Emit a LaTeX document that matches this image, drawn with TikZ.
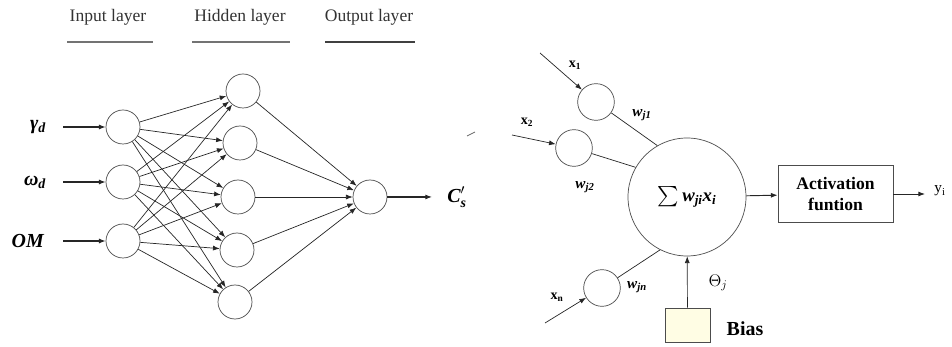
\documentclass[tikz,border=0pt]{standalone}
\usepackage{fontspec}
\setmainfont{Liberation Serif}
\usepackage{amsmath}
\usetikzlibrary{positioning, arrows.meta}
\definecolor{biasfill}{RGB}{255,253,228}
\newcommand{\bi}[1]{\textbf{\textit{#1}}}

\begin{document}
\begin{tikzpicture}
    [
        x=0.3mm, y=-0.3mm, >={Latex[length=2mm, width=1.5mm]},
        neuron_node/.style={circle, draw=black!70, line width=0.6pt, minimum size=10.2mm, inner sep=0pt},
        small_node/.style={circle, draw=black!70, line width=0.6pt, minimum size=11mm, inner sep=0pt},
        sum_node/.style={circle, draw=black!70, line width=0.6pt, minimum size=35.4mm, inner sep=0pt, font=\fontsize{16}{18}\selectfont},
        title_node/.style={font=\fontsize{15}{18}\selectfont, text=black!80},
        var_node/.style={font=\fontsize{17}{19}\selectfont, inner sep=0pt},
        wlabel_node/.style={font=\fontsize{13}{15}\selectfont, inner sep=0pt},
        box_node/.style={rectangle, draw=black!70, line width=0.7pt, fill=white, font=\fontsize{15}{18}\selectfont\bfseries, align=center, minimum width=34.5mm, minimum height=17.1mm},
        bias_node/.style={rectangle, draw=black!70, line width=0.7pt, fill=biasfill, minimum width=13.5mm, minimum height=10.2mm},
        underline/.style={line width=1.2pt, color=black!55},
        link/.style={line width=0.6pt, color=black!85},
    ]
        \useasboundingbox (0,0) rectangle (952,347);

        % layer titles
        \node[title_node] (in_title) at (108,17) {Input layer};
        \node[title_node] (hid_title) at (240,17) {Hidden layer};
        \node[title_node] (out_title) at (369,17) {Output layer};
        \draw[underline] (67,42) -- (153,42);
        \draw[underline] (192,42) -- (290,42);
        \draw[underline, color=black!75] (325,42) -- (415,42);

        % network
        \node[neuron_node] (in1) at (123,127) {};
        \node[neuron_node] (in2) at (123,182) {};
        \node[neuron_node] (in3) at (123,241) {};
        \node[neuron_node] (h1) at (243,91) {};
        \node[neuron_node] (h2) at (240,143) {};
        \node[neuron_node] (h3) at (238,197) {};
        \node[neuron_node] (h4) at (237,250) {};
        \node[neuron_node] (h5) at (235,302) {};
        \node[neuron_node] (out) at (370,197) {};

        \node[var_node] (gamma) at (38,127) {\bi{γ\textsubscript{d}}};
        \node[var_node] (omega) at (35,182) {\bi{ω\textsubscript{d}}};
        \node[var_node] (om) at (28,241) {\bi{OM}};
        \node[var_node] (cs) at (457,197) {$\bi{C}'_{\bi{s}}$};
        \coordinate (a1) at (63,127);
        \coordinate (a2) at (63,182);
        \coordinate (a3) at (63,241);
        \coordinate (a4) at (432,197);

        \draw[->, link, line width=0.9pt] (a1) -- (in1);
        \draw[->, link, line width=0.9pt] (a2) -- (in2);
        \draw[->, link, line width=0.9pt] (a3) -- (in3);
        \draw[->, link, line width=0.9pt] (out) -- (a4);

        \draw[->, link] (in1) -- (h1);
        \draw[->, link] (in1) -- (h2);
        \draw[->, link] (in1) -- (h3);
        \draw[->, link] (in1) -- (h4);
        \draw[->, link] (in1) -- (h5);
        \draw[->, link] (in2) -- (h1);
        \draw[->, link] (in2) -- (h2);
        \draw[->, link] (in2) -- (h3);
        \draw[->, link] (in2) -- (h4);
        \draw[->, link] (in2) -- (h5);
        \draw[->, link] (in3) -- (h1);
        \draw[->, link] (in3) -- (h2);
        \draw[->, link] (in3) -- (h3);
        \draw[->, link] (in3) -- (h4);
        \draw[->, link] (in3) -- (h5);
        \draw[->, link] (h1) -- (out);
        \draw[->, link] (h2) -- (out);
        \draw[->, link] (h3) -- (out);
        \draw[->, link] (h4) -- (out);
        \draw[->, link] (h5) -- (out);

        % stray mark
        \draw[line width=0.6pt, color=black!60] (467,136) -- (475,132);

        % single neuron
        \node[sum_node] (sum) at (687,197) {$\sum$\,\bi{w\textsubscript{ji}x\textsubscript{i}}};
        \node[small_node] (c1) at (596,102) {};
        \node[small_node] (c2) at (574,148) {};
        \node[small_node] (cn) at (602,288) {};
        \coordinate (x1_in) at (540,53);
        \coordinate (x2_in) at (512,135);
        \coordinate (xn_in) at (545,323);

        \node[wlabel_node, font=\fontsize{12}{14}\selectfont\bfseries] (x1) at (575,65) {x\textsubscript{1}};
        \node[wlabel_node, font=\fontsize{12}{14}\selectfont\bfseries] (x2) at (527,122) {x\textsubscript{2}};
        \node[wlabel_node, font=\fontsize{12}{14}\selectfont\bfseries] (xn) at (557,297) {x\textsubscript{n}};
        \node[wlabel_node] (wj1) at (642,115) {\bi{w\textsubscript{j1}}};
        \node[wlabel_node] (wj2) at (585,187) {\bi{w\textsubscript{j2}}};
        \node[wlabel_node] (wjn) at (637,287) {\bi{w\textsubscript{jn}}};

        \draw[->, link] (x1_in) -- (c1);
        \draw[->, link] (x2_in) -- (c2);
        \draw[->, link] (xn_in) -- (cn);
        \draw[link] (c1) -- (sum.120);
        \draw[link] (c2) -- (sum.150);
        \draw[link] (cn) -- (sum.243);

        \node[bias_node] (bias) at (687.5,325) {};
        \node[font=\fontsize{17}{19}\selectfont\bfseries, inner sep=0pt] (bias_label) at (745,329) {Bias};
        \node[font=\fontsize{14}{16}\selectfont, inner sep=0pt] (theta) at (718,283) {$\Theta_{j}$};
        \draw[->, link] (bias) -- (sum);

        \node[box_node] (act) at (835.5,194) {Activation\\funtion};
        \coordinate (y_out) at (925,194);
        \node[font=\fontsize{13}{15}\selectfont, inner sep=0pt] (yi) at (940,191) {y\textsubscript{i}};
        \draw[->, link, line width=0.8pt] (sum) -- (act);
        \draw[->, link, line width=0.8pt] (act) -- (y_out);
    \end{tikzpicture}
\end{document}
